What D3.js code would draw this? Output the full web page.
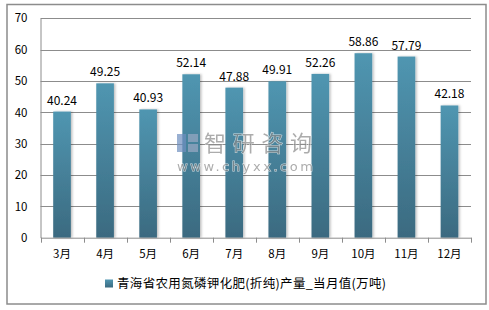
<!DOCTYPE html>
<html><head><meta charset="utf-8">
<script src="https://cdn.jsdelivr.net/npm/d3@7"></script>
<style>body{margin:0;background:#fff}svg{display:block}</style>
</head><body>
<script>
const categories = ["3月","4月","5月","6月","7月","8月","9月","10月","11月","12月"];
const values = [40.24,49.25,40.93,52.14,47.88,49.91,52.26,58.86,57.79,42.18];
const yTicks = [0,10,20,30,40,50,60,70];
const seriesName = "青海省农用氮磷钾化肥(折纯)产量_当月值(万吨)";

const W = 489, H = 310;
const svg = d3.select("body").append("svg").attr("width", W).attr("height", H);
const font = "'Noto Sans CJK SC','DejaVu Sans',sans-serif";

const defs = svg.append("defs");
const grad = defs.append("linearGradient").attr("id","bg").attr("x1",0).attr("y1",0).attr("x2",0).attr("y2",1);
grad.append("stop").attr("offset","0%").attr("stop-color","#5096b1");
grad.append("stop").attr("offset","100%").attr("stop-color","#3b6a80");
const f = defs.append("filter").attr("id","sh").attr("x","-30%").attr("y","-10%").attr("width","160%").attr("height","120%");
f.append("feDropShadow").attr("dx",1.5).attr("dy",0).attr("stdDeviation",1.2).attr("flood-color","#000").attr("flood-opacity",0.25);

// outer border
svg.append("rect").attr("x",7).attr("y",4.5).attr("width",479).attr("height",299.5)
  .attr("fill","#fff").attr("stroke","#8c8c8c").attr("stroke-width",1.5);

const x = d3.scaleBand().domain(categories).range([40.5, 471]).paddingInner(0.59).paddingOuter(0.295);
const y = d3.scaleLinear().domain([0,70]).range([237.7, 18.3]);

// gridlines
svg.append("g").selectAll("line").data(yTicks.filter(d=>d>0)).join("line")
  .attr("x1",40.5).attr("x2",471).attr("y1",d=>Math.round(y(d))+0.5).attr("y2",d=>Math.round(y(d))+0.5)
  .attr("stroke","#8c8c8c").attr("stroke-width",1);

// bars
svg.append("g").selectAll("rect").data(values).join("rect")
  .attr("x",(d,i)=>x(categories[i])).attr("width",x.bandwidth())
  .attr("y",d=>y(d)).attr("height",d=>y(0)-y(d))
  .attr("fill","url(#bg)").attr("filter","url(#sh)");

// watermark
const wm = svg.append("g").attr("opacity",0.7);
wm.append("rect").attr("x",177).attr("y",134).attr("width",9).attr("height",18).attr("fill","#6f8fc0");
wm.append("rect").attr("x",188).attr("y",134).attr("width",10).attr("height",8).attr("fill","#9aa9c4");
wm.append("rect").attr("x",188).attr("y",144).attr("width",10).attr("height",8).attr("fill","#9aa9c4");
wm.append("text").attr("x",204).attr("y",151).attr("font-family",font).attr("font-size",22)
  .attr("fill","#8a8a8a").attr("stroke","#fff").attr("stroke-width",1).attr("paint-order","stroke")
  .attr("textLength",108).text("智研咨询");
wm.append("text").attr("x",177).attr("y",171).attr("font-family","'DejaVu Sans',sans-serif").attr("font-size",13)
  .attr("fill","#8a8a8a").attr("stroke","#fff").attr("stroke-width",1).attr("paint-order","stroke")
  .attr("textLength",136).text("www.chyxx.com");

// axes
const yAxis = d3.axisLeft(y).tickValues(yTicks).tickSize(0).tickPadding(13);
const gy = svg.append("g").attr("transform","translate(40.5,0)").call(yAxis);
gy.select(".domain").attr("stroke","#8c8c8c");
gy.selectAll("text").attr("font-family",font).attr("font-size",11.5).attr("fill","#000");

const xAxis = d3.axisBottom(x).tickSize(0).tickPadding(12);
const gx = svg.append("g").attr("transform",`translate(0,${y(0)})`).call(xAxis);
gx.select(".domain").attr("stroke","#8c8c8c");
gx.selectAll("text").attr("font-family",font).attr("font-size",11.5).attr("fill","#000");
// category boundary ticks
const step = x.step();
const bounds = d3.range(categories.length+1).map(i=>40.5+i*step);
svg.append("g").selectAll("line").data(bounds).join("line")
  .attr("x1",d=>Math.round(d)+0.5).attr("x2",d=>Math.round(d)+0.5).attr("y1",y(0)).attr("y2",y(0)+5)
  .attr("stroke","#8c8c8c");

// value labels
svg.append("g").selectAll("text").data(values).join("text")
  .attr("x",(d,i)=>x(categories[i])+x.bandwidth()/2).attr("y",d=>y(d)-7)
  .attr("text-anchor","middle").attr("font-family",font).attr("font-size",12).attr("fill","#000")
  .text(d=>d.toFixed(2));

// legend
svg.append("rect").attr("x",105).attr("y",279.5).attr("width",8).attr("height",8).attr("fill","url(#bg)");
svg.append("text").attr("x",117).attr("y",288).attr("font-family",font).attr("font-size",12.5).attr("fill","#000")
  .attr("textLength",269).text(seriesName);
</script>
</body></html>
